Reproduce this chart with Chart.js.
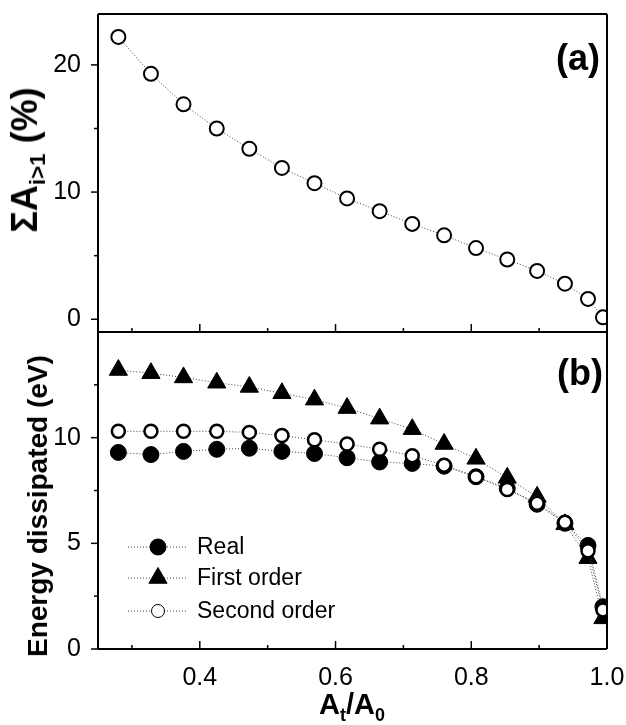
<!DOCTYPE html>
<html>
<head>
<meta charset="utf-8">
<script src="https://cdn.jsdelivr.net/npm/chart.js@4.4.0/dist/chart.umd.min.js"></script>
<style>
  html, body { margin: 0; padding: 0; background: #fff; }
  #wrap { position: relative; width: 626px; height: 725px; overflow: hidden;
          font-family: "Liberation Sans", Arial, sans-serif; color: #000; }
  canvas { position: absolute; left: 0; }
  #topChart { top: 0; }
  #bottomChart { top: 332px; }
  .title { position: absolute; font-weight: bold; white-space: nowrap; line-height: 1;
           transform: translate(-50%, -50%); }
  .rot { transform: translate(-50%, -50%) rotate(-90deg); }
  .sub { font-size: 0.62em; vertical-align: -0.35em; }
</style>
</head>
<body>
<div id="wrap">
  <canvas id="topChart" width="626" height="332"></canvas>
  <canvas id="bottomChart" width="626" height="393"></canvas>
  <div class="title rot" id="yTopTitle" style="left:28px; top:160px; font-size:36px;">&Sigma;A<span class="sub">i&gt;1</span> (%)</div>
  <div class="title rot" id="yBottomTitle" style="left:38px; top:506px; font-size:28px;">Energy dissipated (eV)</div>
  <div class="title" id="xTitle" style="left:352px; top:707px; font-size:29px;">A<span class="sub">t</span>/A<span class="sub">0</span></div>
</div>
<script>
// A_t/A_0 values shared by both panels
const ratio = [0.280, 0.328, 0.376, 0.425, 0.473, 0.521, 0.569, 0.617, 0.665,
               0.713, 0.760, 0.807, 0.853, 0.897, 0.938, 0.972, 0.994];

// panel (a): sum of A_i>1 in %
const sumHigher = [22.2, 19.3, 16.9, 15.0, 13.4, 11.9, 10.7, 9.5, 8.5,
                   7.5, 6.6, 5.6, 4.7, 3.8, 2.8, 1.6, 0.15];

// panel (b): energy dissipated in eV
const realEnergy = [9.3, 9.2, 9.35, 9.45, 9.5, 9.35, 9.25, 9.05, 8.85,
                    8.78, 8.65, 8.15, 7.6, 6.85, 5.95, 4.9, 2.0];
const firstOrder = [13.2, 13.05, 12.85, 12.6, 12.4, 12.1, 11.8, 11.4, 10.9,
                    10.4, 9.7, 9.0, 8.1, 7.2, 5.9, 4.3, 1.45];
const secondOrder = [10.3, 10.3, 10.3, 10.3, 10.25, 10.1, 9.9, 9.7, 9.45,
                     9.15, 8.7, 8.15, 7.55, 6.9, 6.0, 4.65, 1.85];

const seriesNames = ['Real', 'First order', 'Second order'];

const xMajor = [0.4, 0.6, 0.8, 1.0];
const xMinor = [0.3, 0.5, 0.7, 0.9];
const topMajor = [0, 10, 20];
const topMinor = [5, 15];
const bottomMajor = [0, 5, 10];
const bottomMinor = [2.5, 7.5, 12.5];

const FONT = '"Liberation Sans", Arial, sans-serif';

const pts = arr => ratio.map((x, i) => ({ x: x, y: arr[i] }));

function line(ctx, x1, y1, x2, y2) {
   ctx.beginPath();
   ctx.moveTo(x1, y1);
   ctx.lineTo(x2, y2);
   ctx.stroke();
}

// box + tick marks (y outward, x inward) + panel letter
const framePlugin = {
   id: 'frame',
   afterDraw(chart, args, opts) {
      const { ctx, chartArea: a, scales } = chart;
      ctx.save();
      ctx.setLineDash([]);
      ctx.strokeStyle = '#000';
      ctx.lineWidth = 2;
      line(ctx, a.left, a.top, a.right, a.top);
      line(ctx, a.right, a.top, a.right, a.bottom);
      line(ctx, a.left, a.bottom, a.right, a.bottom);
      line(ctx, a.left, a.top, a.left, a.bottom);
      ctx.lineWidth = 1.5;
      opts.yMajor.forEach(v => {
         const y = scales.y.getPixelForValue(v);
         line(ctx, a.left - 7, y, a.left, y);
      });
      opts.yMinor.forEach(v => {
         const y = scales.y.getPixelForValue(v);
         line(ctx, a.left - 4, y, a.left, y);
      });
      xMajor.forEach(v => {
         const x = scales.x.getPixelForValue(v);
         line(ctx, x, a.bottom, x, a.bottom - 8);
      });
      xMinor.forEach(v => {
         const x = scales.x.getPixelForValue(v);
         line(ctx, x, a.bottom, x, a.bottom - 4);
      });
      ctx.fillStyle = '#000';
      ctx.font = 'bold 36px ' + FONT;
      ctx.textAlign = 'right';
      ctx.textBaseline = 'middle';
      ctx.fillText(opts.letter, a.right - opts.letterDx, a.top + opts.letterDy);
      ctx.restore();
   }
};

// legend in the lower left of panel (b)
const legendPlugin = {
   id: 'innerLegend',
   afterDraw(chart) {
      const { ctx, chartArea: a } = chart;
      const rows = [102, 71, 38];
      ctx.save();
      chart.data.datasets.forEach((ds, i) => {
         const y = a.bottom - rows[i];
         ctx.strokeStyle = ds.borderColor;
         ctx.lineWidth = 1;
         ctx.setLineDash([1, 2]);
         line(ctx, a.left + 30, y, a.left + 89, y);
         ctx.setLineDash([]);
         ctx.fillStyle = ds.pointBackgroundColor;
         ctx.strokeStyle = ds.pointBorderColor;
         Chart.helpers.drawPoint(ctx, {
            pointStyle: ds.pointStyle,
            radius: ds.pointRadius,
            borderWidth: ds.pointBorderWidth,
            rotation: 0
         }, a.left + 60, y);
         ctx.fillStyle = '#000';
         ctx.font = '23px ' + FONT;
         ctx.textAlign = 'left';
         ctx.textBaseline = 'middle';
         ctx.fillText(ds.label, a.left + 99, y + 1);
      });
      ctx.restore();
   }
};

function yScale(min, max, major) {
   return {
      type: 'linear',
      min: min,
      max: max,
      grid: { display: false },
      border: { display: false },
      afterBuildTicks: s => { s.ticks = major.map(v => ({ value: v })); },
      afterFit: s => { s.width = 98; s.paddingTop = 0; s.paddingBottom = 0; },
      ticks: { color: '#000', padding: 9, font: { family: FONT, size: 25 } }
   };
}

function dataset(label, values, style, radius, fill, bw, order) {
   return {
      label: label,
      data: pts(values),
      borderColor: '#444',
      borderWidth: 1,
      borderDash: [1, 2],
      pointStyle: style,
      pointRadius: radius,
      pointBackgroundColor: fill,
      pointBorderColor: '#000',
      pointBorderWidth: bw,
      tension: 0,
      order: order
   };
}

new Chart(document.getElementById('topChart'), {
   type: 'line',
   data: {
      datasets: [dataset('ΣA', sumHigher, 'circle', 7, '#fff', 2, 0)]
   },
   options: {
      responsive: false,
      animation: false,
      layout: { autoPadding: false, padding: { top: 14, right: 19, left: 0, bottom: 0 } },
      plugins: {
         legend: { display: false },
         tooltip: { enabled: false },
         frame: { yMajor: topMajor, yMinor: topMinor, letter: '(a)', letterDx: 7, letterDy: 46 }
      },
      scales: {
         x: { type: 'linear', min: 0.25, max: 1.0, display: false },
         y: yScale(-1, 24, topMajor)
      }
   },
   plugins: [framePlugin]
});

new Chart(document.getElementById('bottomChart'), {
   type: 'line',
   data: {
      datasets: [
         dataset(seriesNames[0], realEnergy, 'circle', 8, '#000', 1, 1),
         dataset(seriesNames[1], firstOrder, 'triangle', 10.5, '#000', 1, 2),
         dataset(seriesNames[2], secondOrder, 'circle', 6.5, '#fff', 2.5, 0)
      ]
   },
   options: {
      responsive: false,
      animation: false,
      layout: { autoPadding: false, padding: { top: 0, right: 19, left: 0, bottom: 0 } },
      plugins: {
         legend: { display: false },
         tooltip: { enabled: false },
         frame: { yMajor: bottomMajor, yMinor: bottomMinor, letter: '(b)', letterDx: 4, letterDy: 43 }
      },
      scales: {
         x: {
            type: 'linear',
            min: 0.25,
            max: 1.0,
            grid: { display: false },
            border: { display: false },
            afterBuildTicks: s => { s.ticks = xMajor.map(v => ({ value: v })); },
            afterFit: s => { s.height = 76; s.paddingLeft = 0; s.paddingRight = 0; },
            ticks: {
               color: '#000',
               padding: 6,
               maxRotation: 0,
               font: { family: FONT, size: 25 },
               callback: v => Number(v).toFixed(1)
            }
         },
         y: yScale(0, 15, bottomMajor)
      }
   },
   plugins: [framePlugin, legendPlugin]
});
</script>
</body>
</html>
